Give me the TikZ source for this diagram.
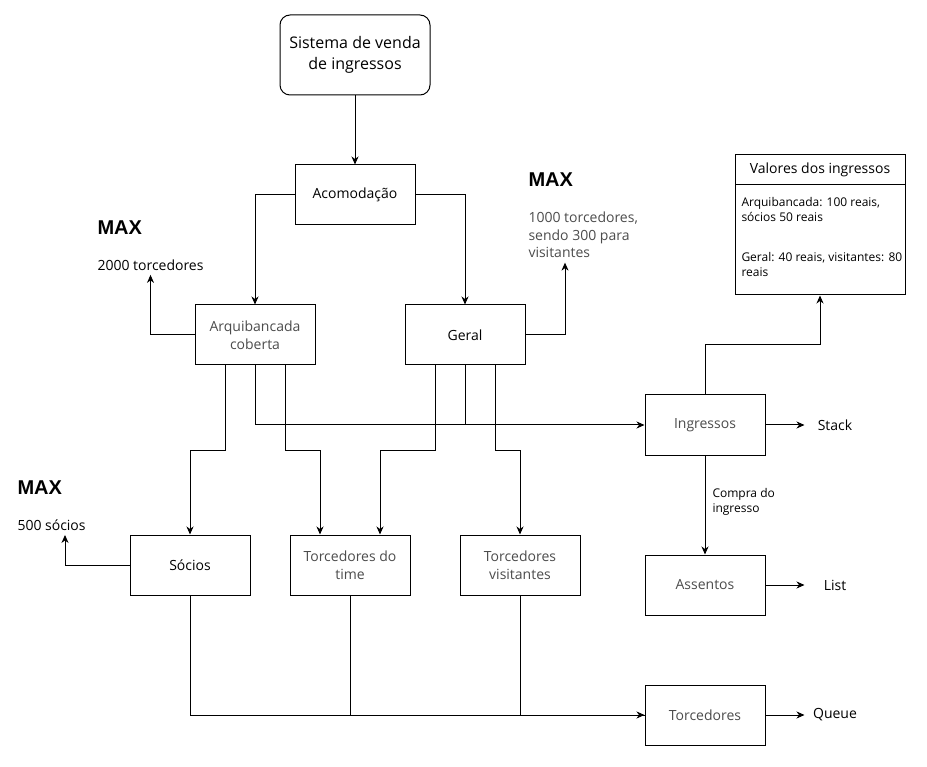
\documentclass[tikz,border=0pt]{standalone}
\usepackage{fontspec}
\setmainfont{Open Sans}
\newfontfamily\maxfont{Liberation Sans}
\usetikzlibrary{arrows.meta}

\begin{document}
\begin{tikzpicture}[
                x=1pt, y=-1pt,
                box/.style={
                  draw,
                  rectangle,
                  fill=white,
                  minimum width=120pt,
                  minimum height=60pt,
                  inner sep=2pt,
                  align=center,
                  font=\fontsize{14}{18}\selectfont,
                },
                greybox/.style={box, text=black!70},
                note/.style={inner sep=0pt, inner ysep=4pt, align=left, font=\fontsize{14}{17.5}\selectfont},
                small/.style={inner sep=0pt, align=left, font=\fontsize{12}{15}\selectfont},
                maxlbl/.style={inner sep=0pt, font=\maxfont\bfseries\fontsize{20}{24}\selectfont},
                line width=1pt,
                >={Stealth[length=8pt,width=7pt,inset=2.5pt]},
              ]
              \useasboundingbox (0,0) rectangle (927,767);
              \node[box, rounded corners=10pt, minimum width=150pt, minimum height=80pt, font=\fontsize{16}{21}\selectfont] at (355,55) (sys) {Sistema de venda\\de ingressos} ;
              \node[box] at (355,195) (aco) {Acomodação} ;
              \node[greybox] at (255,335) (arq) {Arquibancada\\coberta} ;
              \node[box] at (465,335) (ger) {Geral} ;
              \node[box] at (190,565) (soc) {Sócios} ;
              \node[greybox] at (350,565) (tim) {Torcedores do\\time} ;
              \node[greybox] at (520,565) (vis) {Torcedores\\visitantes} ;
              \node[greybox] at (705,425) (ing) {Ingressos} ;
              \node[greybox] at (705,585) (ass) {Assentos} ;
              \node[greybox] at (705,715) (tor) {Torcedores} ;
              \node[box, minimum width=170pt, minimum height=30pt] at (820,170) (valh) {Valores dos ingressos} ;
              \node[box, minimum width=170pt, minimum height=110pt] at (820,240) (valb) {} ;
              \node[small, anchor=base west] at (741,222) (val1) {Arquibancada: 100 reais,\\sócios 50 reais} ;
              \node[small, anchor=base west] at (741,277) (val2) {Geral: 40 reais, visitantes: 80\\reais} ;
              \node[maxlbl, anchor=west] at (97,228) (max1) {MAX} ;
              \node[note, anchor=west] at (97,265) (lim1) {2000 torcedores} ;
              \node[maxlbl, anchor=west] at (528,180) (max2) {MAX} ;
              \node[note, anchor=base west, text=black!70] at (528,258) (lim2) {1000 torcedores,\\sendo 300 para\\visitantes} ;
              \node[maxlbl, anchor=west] at (17,488) (max3) {MAX} ;
              \node[note, anchor=west] at (17,525) (lim3) {500 sócios} ;
              \node[note, align=center, minimum width=60pt] at (835,425) (stk) {Stack} ;
              \node[note, align=center, minimum width=60pt] at (835,585) (lst) {List} ;
              \node[note, align=center, minimum width=60pt] at (835,715) (que) {Queue} ;
              \node[small, anchor=base west] at (712,512) (buy) {Compra do\\ingresso} ;
              \draw[->] (sys)--(aco) ;
              \draw[->] (aco.west) -| (arq) ;
              \draw[->] (aco.east) -| (ger) ;
              \draw[->] (arq.west) -| (lim1) ;
              \draw[->] (ger.east) -| ([xshift=37pt]lim2.south west) ;
              \draw[->] (soc.west) -| ([xshift=48pt]lim3.south west) ;
              \draw[->] ([xshift=-30pt]arq.south) -- ++(0,85) -| (soc) ;
              \draw[->] ([xshift=30pt]arq.south) -- ++(0,85) -| ([xshift=-30pt]tim.north) ;
              \draw[->] (arq.south) |- (ing) ;
              \draw (ger.south) -- ++(0,60) ;
              \draw[->] ([xshift=-30pt]ger.south) -- ++(0,85) -| ([xshift=30pt]tim.north) ;
              \draw[->] ([xshift=30pt]ger.south) -- ++(0,85) -| (vis) ;
              \draw[->] (ing.north) -- ++(0,-50) -| (valb) ;
              \draw[->] (ing)--(stk) ;
              \draw[->] (ing)--(ass) ;
              \draw[->] (ass)--(lst) ;
              \draw[->] (tor)--(que) ;
              \draw (soc.south) |- (tor) ;
              \draw (tim.south) |- (tor) ;
              \draw[->] (vis.south) |- (tor) ;
              \end{tikzpicture}
\end{document}
